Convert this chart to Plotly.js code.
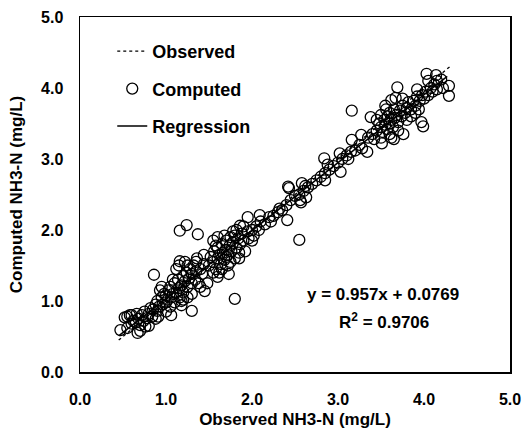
<!DOCTYPE html>
<html>
<head>
<meta charset="utf-8">
<script src="https://cdn.plot.ly/plotly-3.0.1.min.js"></script>
<style>html,body{margin:0;padding:0;background:#fff;}#chart{width:528px;height:436px;}</style>
</head>
<body>
<div id="chart"></div>
<script>
// Observed (x) vs computed (y) NH3-N, mg/L
var obsX = [
0.47,0.52,0.58,0.67,0.80,0.91,1.06,1.30,0.86,0.55,0.60,0.62,0.65,0.68,0.70,0.72,0.74,0.75,0.78,0.80,0.82,0.84,0.85,0.88,0.90,0.90,0.92,0.95,0.96,0.98,1.00,1.00,0.55,0.60,0.66,0.70,0.76,0.88,0.93,
1.02,1.03,1.05,1.06,1.08,1.10,1.10,1.12,1.14,1.15,1.16,1.18,1.20,1.20,1.22,1.24,1.25,1.27,1.28,1.30,1.30,1.32,1.34,1.35,1.38,1.40,1.42,1.44,1.12,1.15,1.18,1.25,1.36,1.40,1.48,1.05,1.22,1.16,1.24,1.37,1.16,1.18,1.45,1.44,
0.95,1.00,1.08,1.25,1.30,1.35,1.20,
1.50,1.52,1.55,1.56,1.58,1.60,1.60,1.62,1.64,1.65,1.66,1.68,1.70,1.70,1.72,1.74,1.75,1.76,1.78,1.80,1.80,1.82,1.84,1.85,1.86,1.88,1.90,1.92,1.95,1.96,2.00,2.02,2.05,2.08,2.10,1.55,1.62,1.68,1.72,1.78,1.65,1.58,1.70,1.82,1.60,1.73,1.80,1.86,2.00,1.95,2.09,
1.60,1.75,1.90,1.55,1.85,
2.15,2.20,2.25,2.30,2.35,2.40,2.45,2.50,2.55,2.60,2.65,2.70,2.75,2.80,2.85,2.90,2.95,3.00,3.05,3.10,3.15,3.20,3.25,3.28,2.22,2.32,2.62,2.88,3.02,3.12,2.43,2.57,2.63,2.84,3.03,3.16,3.27,2.42,2.58,2.56,2.41,2.85,2.55,
3.35,3.40,3.42,3.45,3.48,3.50,3.52,3.54,3.55,3.57,3.58,3.60,3.60,3.62,3.64,3.65,3.66,3.68,3.70,3.72,3.74,3.75,3.78,3.80,3.82,3.85,3.88,3.90,3.92,3.95,3.98,4.00,4.02,4.05,4.08,4.10,4.12,4.15,4.20,4.22,3.50,3.56,3.70,3.76,3.85,3.45,3.62,
3.16,3.34,3.69,3.51,3.65,3.97,3.99,3.94,4.29,4.29,4.03,4.14,3.38,3.62,3.67,3.92,4.15,
3.55,3.60,3.75,3.80,3.90,4.05,3.50
];
var compY = [
0.59,0.77,0.80,0.55,0.65,0.78,0.80,0.86,1.37,0.62,0.68,0.72,0.70,0.75,0.66,0.80,0.72,0.85,0.76,0.82,0.90,0.78,0.88,0.95,0.86,1.00,0.92,1.05,0.95,1.10,0.98,1.08,0.78,0.80,0.82,0.58,0.64,0.75,1.15,
1.02,1.15,1.20,1.05,1.10,1.25,0.98,1.12,1.30,1.18,1.05,1.22,1.35,1.12,1.28,1.40,1.20,1.32,1.45,1.25,1.38,1.50,1.30,1.42,1.25,1.45,1.38,1.52,1.45,1.50,1.00,1.05,1.60,1.20,1.25,0.92,1.55,1.99,2.07,1.94,1.56,0.94,1.14,1.65,
1.20,0.85,1.30,1.50,1.10,1.55,1.02,
1.50,1.62,1.55,1.70,1.45,1.60,1.75,1.65,1.52,1.80,1.68,1.58,1.72,1.85,1.65,1.78,1.90,1.70,1.82,1.60,1.92,1.75,1.88,1.68,1.80,1.95,1.85,1.70,1.98,1.88,2.00,1.92,2.05,2.00,2.12,1.85,1.40,1.92,1.50,1.98,1.45,1.78,1.62,2.00,1.34,1.38,1.03,2.06,1.85,2.18,2.21,
1.90,1.55,2.05,1.40,1.60,
2.08,2.18,2.20,2.25,2.28,2.35,2.42,2.48,2.50,2.55,2.60,2.65,2.70,2.75,2.80,2.85,2.90,2.95,3.00,3.05,3.10,3.12,3.20,3.15,2.12,2.30,2.62,2.92,3.08,3.00,2.59,2.39,2.46,3.01,2.82,3.27,3.34,2.61,2.66,2.42,2.14,2.70,1.86,
3.30,3.35,3.28,3.40,3.50,3.45,3.38,3.55,3.48,3.42,3.60,3.50,3.65,3.55,3.45,3.70,3.58,3.62,3.52,3.68,3.60,3.75,3.65,3.72,3.80,3.70,3.82,3.75,3.88,3.82,3.90,3.85,3.95,3.90,4.00,3.95,4.05,4.10,4.12,4.00,3.62,3.70,3.40,3.35,3.60,3.55,3.30,
3.68,3.10,4.01,3.22,3.28,3.52,3.46,3.70,4.03,3.89,4.20,4.18,3.59,3.83,3.86,3.98,3.98,
3.75,3.35,3.85,3.55,3.65,4.10,3.30
];
// Regression shown on the chart and the range the lines cover
var regSlope = 0.957;
var regIntercept = 0.0769;
var lineX = [0.45, 4.30];
var regX = [0.45, 4.27];
var tickVals = [0, 1, 2, 3, 4, 5];
var tickText = ['0.0', '1.0', '2.0', '3.0', '4.0', '5.0'];
var seriesNames = ['Observed', 'Computed', 'Regression'];
var eqText = 'y = 0.957x + 0.0769';
var r2Text = 'R<sup>2</sup> = 0.9706';

var regY = regX.map(function (x) { return regSlope * x + regIntercept; });
var FONT = '"Liberation Sans", Arial, sans-serif';

var traces = [
  {x: lineX, y: lineX, type: 'scatter', mode: 'lines', name: seriesNames[0],
   legendgroup: 'a', line: {color: '#000', width: 1.3, dash: 'dot'}},
  {x: obsX, y: compY, type: 'scatter', mode: 'markers', name: seriesNames[1],
   legendgroup: 'b',
   marker: {symbol: 'circle-open', size: 11, color: '#000', line: {width: 1.3, color: '#000'}}},
  {x: regX, y: regY, type: 'scatter', mode: 'lines', name: seriesNames[2],
   legendgroup: 'c', line: {color: '#000', width: 1.5}}
];

var axisCommon = {
  range: [0, 5], tickvals: tickVals, ticktext: tickText,
  showgrid: false, zeroline: false, showline: true, mirror: true,
  linecolor: '#000', linewidth: 1.5, ticks: '',
  tickfont: {family: FONT, size: 16, color: '#000', weight: 'bold'}
};

var layout = {
  width: 528, height: 436,
  margin: {l: 80, r: 18, t: 17, b: 64},
  paper_bgcolor: '#fff', plot_bgcolor: '#fff',
  showlegend: true,
  legend: {x: 0.075, y: 0.955, xanchor: 'left', yanchor: 'top', bgcolor: 'rgba(0,0,0,0)',
           tracegroupgap: 11, traceorder: 'grouped',
           font: {family: FONT, size: 18, color: '#000', weight: 'bold'}},
  xaxis: Object.assign({}, axisCommon, {
    ticklabelstandoff: 12,
    title: {text: 'Observed NH3-N (mg/L)', standoff: 6,
            font: {family: FONT, size: 17, color: '#000', weight: 'bold'}}
  }),
  yaxis: Object.assign({}, axisCommon, {
    ticklabelstandoff: 12,
    title: {text: 'Computed NH3-N (mg/L)', standoff: 14,
            font: {family: FONT, size: 17, color: '#000', weight: 'bold'}}
  }),
  annotations: [
    {x: 3.52, y: 1.085, xref: 'x', yref: 'y', text: eqText, showarrow: false,
     font: {family: FONT, size: 17, color: '#000', weight: 'bold'}},
    {x: 3.54, y: 0.72, xref: 'x', yref: 'y', text: r2Text, showarrow: false,
     font: {family: FONT, size: 17, color: '#000', weight: 'bold'}}
  ]
};

Plotly.newPlot('chart', traces, layout, {displayModeBar: false, staticPlot: true});
</script>
</body>
</html>
